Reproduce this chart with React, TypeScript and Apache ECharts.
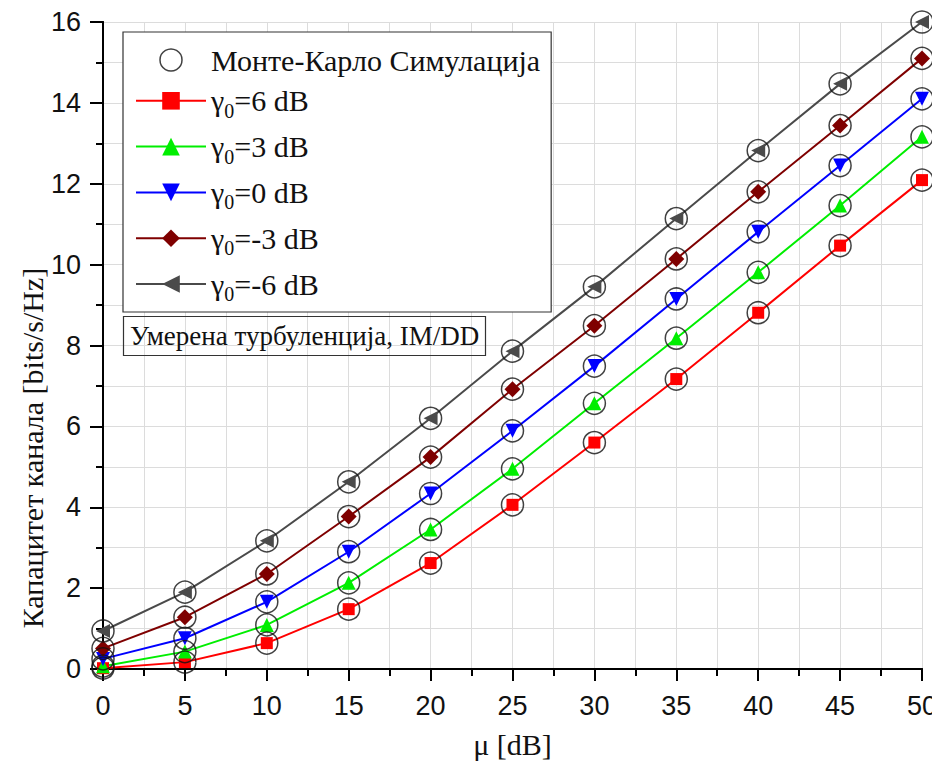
import React, { useEffect, useRef } from "react";
import * as echarts from "echarts";

// μ [dB] sample points
const mu = [0, 5, 10, 15, 20, 25, 30, 35, 40, 45, 50];

// Channel capacity [bits/s/Hz] for each threshold γ0
const capG6 = [0.02, 0.17, 0.64, 1.48, 2.62, 4.06, 5.6, 7.17, 8.81, 10.47, 12.09];
const capG3 = [0.07, 0.43, 1.09, 2.13, 3.45, 4.95, 6.57, 8.18, 9.81, 11.46, 13.16];
const capG0 = [0.25, 0.76, 1.66, 2.9, 4.34, 5.89, 7.49, 9.15, 10.81, 12.45, 14.1];
const capGm3 = [0.51, 1.28, 2.35, 3.77, 5.24, 6.92, 8.49, 10.14, 11.8, 13.44, 15.1];
const capGm6 = [0.94, 1.9, 3.17, 4.63, 6.2, 7.86, 9.45, 11.14, 12.82, 14.47, 16.0];

// Monte-Carlo simulation points (coincide with the analytical curves)
const simG6 = capG6;
const simG3 = capG3;
const simG0 = capG0;
const simGm3 = capGm3;
const simGm6 = capGm6;

const gammaLabels = ["6", "3", "0", "-3", "-6"];
const simLabel = "Монте-Карло Симулација";
const noteLabel = "Умерена турбуленција, IM/DD";
const xTitle = "μ [dB]";
const yTitle = "Капацитет канала [bits/s/Hz]";

const SERIF = "Liberation Serif";
const SANS = "Liberation Sans";

const curves = [
  { key: "g6", data: capG6, color: "#ff0000", symbol: "rect", size: 12, rotate: 0 },
  { key: "g3", data: capG3, color: "#00ee00", symbol: "triangle", size: 14, rotate: 0 },
  { key: "g0", data: capG0, color: "#0000ff", symbol: "triangle", size: 14, rotate: 180 },
  { key: "gm3", data: capGm3, color: "#7f0000", symbol: "diamond", size: 16, rotate: 0 },
  { key: "gm6", data: capGm6, color: "#4a4a4a", symbol: "triangle", size: 14, rotate: 90 },
];

const simSets = [simG6, simG3, simG0, simGm3, simGm6];

export default function App() {
  const ref = useRef<HTMLDivElement>(null);

  useEffect(() => {
    if (!ref.current) return;
    const chart = echarts.init(ref.current, undefined, { renderer: "svg" });

    const lineSeries = curves.map((c) => ({
      name: c.key,
      type: "line",
      data: mu.map((m, i) => [m, c.data[i]]),
      symbol: c.symbol,
      symbolSize: c.size,
      symbolRotate: c.rotate,
      showAllSymbol: true,
      lineStyle: { color: c.color, width: 2 },
      itemStyle: { color: c.color },
      z: 3,
    }));

    const simPoints: number[][] = [];
    simSets.forEach((set) => mu.forEach((m, i) => simPoints.push([m, set[i]])));

    const legendNames: Record<string, string> = { sim: `{t|${simLabel}}` };
    curves.forEach((c, i) => {
      legendNames[c.key] = `{t|γ}{s|0}{t|=${gammaLabels[i]} dB}`;
    });

    const mirrorAxisCommon = {
      min: 0,
      axisLine: { show: true, lineStyle: { color: "#000", width: 2 } },
      axisLabel: { show: false },
      splitLine: { show: false },
      minorSplitLine: { show: false },
    };

    chart.setOption({
      animation: false,
      backgroundColor: "#fff",
      grid: { left: 103, right: 17, top: 22, bottom: 104 },
      title: {
        text: noteLabel,
        left: 123,
        top: 316,
        padding: [6, 7, 7, 7],
        borderColor: "#333",
        borderWidth: 1.2,
        textStyle: { fontFamily: SERIF, fontSize: 27, fontWeight: "normal", color: "#111" },
      },
      legend: {
        orient: "vertical",
        left: 123,
        top: 32,
        padding: [13, 11, 8, 12],
        itemGap: 10.8,
        itemWidth: 70,
        itemHeight: 22,
        borderColor: "#333",
        borderWidth: 1.2,
        backgroundColor: "#fff",
        data: [
          { name: "sim", icon: "circle", itemStyle: { color: "rgba(0,0,0,0)", borderColor: "#111", borderWidth: 1.5 } },
          ...curves.map((c) => c.key),
        ],
        formatter: (name: string) => legendNames[name],
        textStyle: {
          rich: {
            t: { fontFamily: SERIF, fontSize: 30, color: "#111", lineHeight: 36, verticalAlign: "middle" },
            s: { fontFamily: SERIF, fontSize: 20, color: "#111", lineHeight: 40, verticalAlign: "bottom" },
          },
        },
      },
      xAxis: [
        {
          type: "value",
          min: 0,
          max: 50,
          interval: 5,
          position: "bottom",
          axisLine: { show: true, onZero: false, lineStyle: { color: "#000", width: 2 } },
          axisTick: { show: true, inside: false, length: 12, lineStyle: { color: "#000", width: 2 } },
          minorTick: { show: true, splitNumber: 2, length: 7, lineStyle: { color: "#000", width: 2 } },
          splitLine: { show: true, lineStyle: { color: "#dcdcdc", width: 1 } },
          minorSplitLine: { show: true, lineStyle: { color: "#dcdcdc", width: 1 } },
          axisLabel: { fontFamily: SANS, fontSize: 27, color: "#111", margin: 23 },
          name: xTitle,
          nameLocation: "middle",
          nameGap: 60,
          nameTextStyle: { fontFamily: SERIF, fontSize: 30, color: "#111" },
        },
        {
          type: "value",
          max: 50,
          interval: 5,
          position: "top",
          ...mirrorAxisCommon,
          axisTick: { show: true, inside: true, length: 11, lineStyle: { color: "#000", width: 2 } },
          minorTick: { show: true, splitNumber: 2, length: 6, lineStyle: { color: "#000", width: 2 } },
        },
      ],
      yAxis: [
        {
          type: "value",
          min: 0,
          max: 16,
          interval: 2,
          position: "left",
          axisLine: { show: true, onZero: false, lineStyle: { color: "#000", width: 2 } },
          axisTick: { show: true, inside: false, length: 13, lineStyle: { color: "#000", width: 2 } },
          minorTick: { show: true, splitNumber: 2, length: 7, lineStyle: { color: "#000", width: 2 } },
          splitLine: { show: true, lineStyle: { color: "#dcdcdc", width: 1 } },
          minorSplitLine: { show: true, lineStyle: { color: "#dcdcdc", width: 1 } },
          axisLabel: { fontFamily: SANS, fontSize: 27, color: "#111", margin: 22 },
        },
        {
          type: "value",
          max: 16,
          interval: 2,
          position: "right",
          ...mirrorAxisCommon,
          axisTick: { show: true, inside: true, length: 11, lineStyle: { color: "#000", width: 2 } },
          minorTick: { show: true, splitNumber: 2, length: 6, lineStyle: { color: "#000", width: 2 } },
        },
      ],
      graphic: [
        {
          type: "text",
          x: 32,
          y: 448,
          rotation: Math.PI / 2,
          style: {
            text: yTitle,
            fontFamily: SERIF,
            fontSize: 30,
            fill: "#111",
            align: "center",
            verticalAlign: "middle",
          },
        },
      ],
      series: [
        ...lineSeries,
        {
          name: "sim",
          type: "scatter",
          data: simPoints,
          symbol: "circle",
          symbolSize: 22,
          itemStyle: { color: "rgba(0,0,0,0)", borderColor: "#111", borderWidth: 1.5 },
          z: 5,
        },
      ],
    });

    return () => chart.dispose();
  }, []);

  return <div ref={ref} style={{ width: 940, height: 773, margin: -8 }} />;
}
